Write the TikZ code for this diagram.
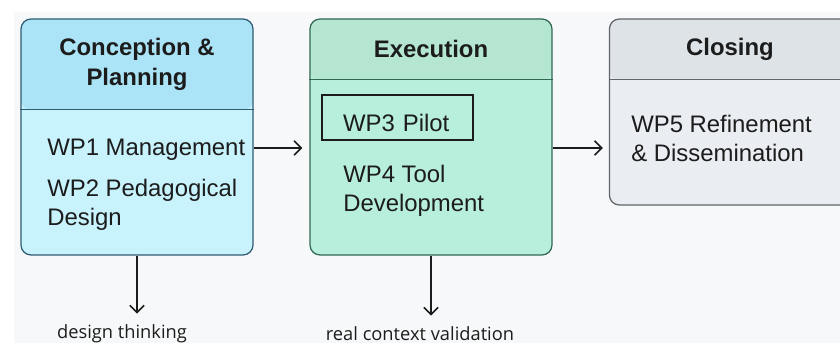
\documentclass[tikz,border=0pt]{standalone}
\usepackage{fontspec}
\usepackage{xcolor}
\usepackage{tikz}
\usetikzlibrary{shapes,arrows.meta,positioning,calc}
\setmainfont{Liberation Sans}
\newfontfamily\labelfont{Open Sans}
\definecolor{pagebg}{RGB}{247, 248, 249}
\definecolor{inktext}{RGB}{28, 28, 28}
\definecolor{conchead}{RGB}{171, 228, 247}
\definecolor{concbody}{RGB}{200, 243, 252}
\definecolor{concline}{RGB}{46, 92, 116}
\definecolor{exechead}{RGB}{180, 230, 210}
\definecolor{execbody}{RGB}{184, 239, 220}
\definecolor{execline}{RGB}{48, 104, 84}
\definecolor{closehead}{RGB}{221, 227, 231}
\definecolor{closebody}{RGB}{234, 237, 242}
\definecolor{closeline}{RGB}{96, 102, 107}

\tikzset{
    phase/.style={draw, line width=0.9pt, rounded corners=2.5mm, inner sep=0pt},
    headtext/.style={text=inktext, font=\fontsize{17}{21}\selectfont\bfseries, align=center},
    wptext/.style={text=inktext, font=\fontsize{17}{21}\selectfont, align=left, inner sep=0pt, anchor=north west},
    outtext/.style={text=inktext, font=\labelfont\fontsize{13}{16}\selectfont, inner sep=0pt},
    flow/.style={draw=inktext, line width=1.1pt, -{Straight Barb[length=1.8mm, width=3.6mm]}}
}

\begin{document}
\begin{tikzpicture}
    \useasboundingbox (0,0) rectangle (210mm, 85.75mm);
    \fill[white] (0,0) rectangle (210mm, 85.75mm);
    \fill[pagebg] (3.5mm, 0) rectangle (210mm, 82.75mm);

    % phases
    \node[phase, draw=concline, fill=concbody, minimum width=58mm, minimum height=59mm,
        path picture={\fill[conchead] (path picture bounding box.north west) rectangle ([yshift=-22.75mm]path picture bounding box.north east);}]
        (conc) at (34.25mm, 51.5mm) {};
    \draw[concline, line width=0.9pt] ([yshift=-22.75mm]conc.north west) -- ([yshift=-22.75mm]conc.north east);

    \node[phase, draw=execline, fill=execbody, minimum width=60.5mm, minimum height=59mm,
        path picture={\fill[exechead] (path picture bounding box.north west) rectangle ([yshift=-15.25mm]path picture bounding box.north east);}]
        (exec) at (107.75mm, 51.5mm) {};
    \draw[execline, line width=0.9pt] ([yshift=-15.25mm]exec.north west) -- ([yshift=-15.25mm]exec.north east);

    \node[phase, draw=closeline, fill=closebody, minimum width=62.5mm, minimum height=46.5mm,
        path picture={\fill[closehead] (path picture bounding box.north west) rectangle ([yshift=-15.25mm]path picture bounding box.north east);}]
        (close) at (183.6mm, 57.75mm) {};
    \draw[closeline, line width=0.9pt] ([yshift=-15.25mm]close.north west) -- ([yshift=-15.25mm]close.north east);

    % headers
    \node[headtext] (conctitle) at (34.25mm, 69.6mm) {Conception \&\\Planning};
    \node[headtext] (exectitle) at (107.75mm, 73.4mm) {Execution};
    \node[headtext] (closetitle) at (182.5mm, 73.4mm) {Closing};

    % work packages
    \node[wptext] (wpone) at (11.75mm, 51.1mm) {WP1 Management};
    \node[wptext] (wptwo) at (11.75mm, 41.1mm) {WP2 Pedagogical\\Design};
    \node[draw=inktext, line width=1.4pt, minimum width=37.75mm, minimum height=11.25mm,
        text width=27.25mm, inner xsep=5.25mm, inner ysep=0pt, text height=7mm, text depth=0pt,
        align=left, text=inktext, font=\fontsize{17}{21}\selectfont] (wpthree) at (99.4mm, 56.4mm) {WP3 Pilot};
    \node[wptext] (wpfour) at (85.75mm, 44.6mm) {WP4 Tool\\Development};
    \node[wptext] (wpfive) at (157.75mm, 57.1mm) {WP5 Refinement\\\& Dissemination};

    % outcomes
    \node[outtext] (design) at (30.5mm, 2.4mm) {design thinking};
    \node[outtext] (valid) at (105mm, 2.4mm) {real context validation};

    % connectors
    \draw[flow, shorten >=1.75mm] ([yshift=-2.75mm]conc.east) coordinate (a1) -- (exec.west |- a1);
    \draw[flow, shorten >=1.5mm] ([yshift=-2.75mm]exec.east) coordinate (a2) -- (close.west |- a2);
    \draw[flow, shorten >=2.6mm] (conc.south) -- (conc.south |- design.north);
    \draw[flow, shorten >=2.6mm] (exec.south) -- (exec.south |- valid.north);
\end{tikzpicture}
\end{document}
